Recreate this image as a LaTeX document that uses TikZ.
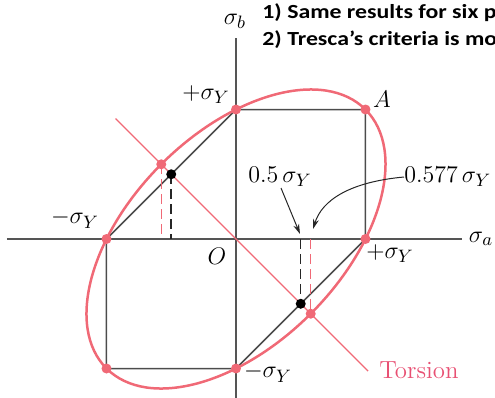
\documentclass[tikz,border=0pt]{standalone}
\usepackage{fontspec}
\newfontfamily\notefont{Carlito}
\usetikzlibrary{arrows.meta,calc}
\definecolor{pk}{RGB}{240,105,118}
\definecolor{pktext}{RGB}{232,80,115}
\definecolor{gr}{RGB}{85,85,85}
\begin{document}
\begin{tikzpicture}[x=0.5pt,y=-0.5pt,
  axis/.style={draw=gr,line width=0.7pt},
  hexline/.style={draw=gr!90!black,line width=0.75pt},
  ell/.style={draw=pk,line width=1.25pt},
  tors/.style={draw=pk,line width=0.7pt},
  pdot/.style={circle,fill=pk,inner sep=0pt,minimum size=5pt},
  bdot/.style={circle,fill=black,inner sep=0pt,minimum size=5pt},
  bdash/.style={draw=black!85,line width=0.75pt,dash pattern=on 5pt off 2.5pt},
  pdash/.style={draw=pk,line width=0.6pt,dash pattern=on 5pt off 2.5pt},
  lab/.style={font=\fontsize{12.4}{14}\selectfont,inner sep=0pt},
  note/.style={font=\notefont\bfseries\fontsize{10}{12}\selectfont,inner sep=0pt,anchor=west},
  arr/.style={draw=black!85,line width=0.5pt,-{Stealth[length=5pt,width=3pt]}}]
\useasboundingbox (0,0) rectangle (495,398);
\clip (0,0) rectangle (495,398);
\def\s{129.5}
\coordinate (O) at (236,239);
% axes
\coordinate (xl) at (7,239);
\coordinate (xr) at (462,239);
\coordinate (yt) at (236,38);
\coordinate (yb) at (236,400);
\draw[axis] (xl) -- (xr);
\draw[axis] (yt) -- (yb);
% key points
\coordinate (P0) at (236,109.5);
\coordinate (PA) at (365.5,109.5);
\coordinate (P1) at (365.5,239);
\coordinate (P3) at (236,368.5);
\coordinate (P4) at (106.5,368.5);
\coordinate (P5) at (106.5,239);
% Tresca hexagon
\draw[hexline] (P5) -- (P0) -- (PA) -- (P1) -- (P3) -- (P4) -- cycle;
% torsion line
\coordinate (T1) at ($(O)+(-0.93*\s,-0.93*\s)$);
\coordinate (T2) at ($(O)+(1.02*\s,1.02*\s)$);
\draw[tors] (T1) -- (T2);
% ellipse (von Mises)
\draw[ell] (O) ellipse[x radius=183.1,y radius=105.7,rotate=45];
% torsion points
\coordinate (M1) at ($(O)+(-0.577*\s,-0.577*\s)$);
\coordinate (M2) at ($(O)+(0.577*\s,0.577*\s)$);
\coordinate (B1) at ($(O)+(-0.5*\s,-0.5*\s)$);
\coordinate (B2) at ($(O)+(0.5*\s,0.5*\s)$);
\coordinate (M1a) at (M1 |- O);
\coordinate (B1a) at (B1 |- O);
\coordinate (M2a) at (M2 |- O);
\coordinate (B2a) at (B2 |- O);
\draw[pdash] (M1) -- (M1a);
\draw[bdash] (B1) -- (B1a);
\draw[pdash] (M2a) -- (M2);
\draw[bdash] (B2a) -- (B2);
% dots
\foreach \p in {P0,PA,P1,P3,P4,P5,M1,M2} \node[pdot] at (\p) {};
\node[bdot] (b1) at (B1) {};
\node[bdot] (b2) at (B2) {};
% labels
\node[lab] (sb) at (235,21) {$\sigma_b$};
\node[lab] (sa) at (481,239) {$\sigma_a$};
\node[lab] (lp) at (206,95) {$+\sigma_Y$};
\node[lab] (lA) at (382,99) {$A$};
\node[lab] (lm) at (75,219) {$-\sigma_Y$};
\node[lab] (lO) at (217,256) {$O$};
\node[lab] (lp2) at (390,254) {$+\sigma_Y$};
\node[lab] (lm2) at (268,373) {$-\sigma_Y$};
\node[lab,text=pktext] (lT) at (419,370) {Torsion};
\node[lab] (l05) at (280,177) {$0.5\,\sigma_Y$};
\node[lab,anchor=west] (l577) at (404,177) {$0.577\,\sigma_Y$};
\coordinate (a1) at (300,234);
\coordinate (a2) at (313,229);
\draw[arr] (281,188) -- (a1);
\draw[arr] (l577.west) .. controls (350,182) and (322,200) .. (a2);
% notes
\node[note] (n1) at (262,13) {\scalebox{1.19}[1]{1) Same results for six p}};
\node[note] (n2) at (262,40) {\scalebox{1.19}[1]{2) Tresca’s criteria is mo}};
\end{tikzpicture}
\end{document}
